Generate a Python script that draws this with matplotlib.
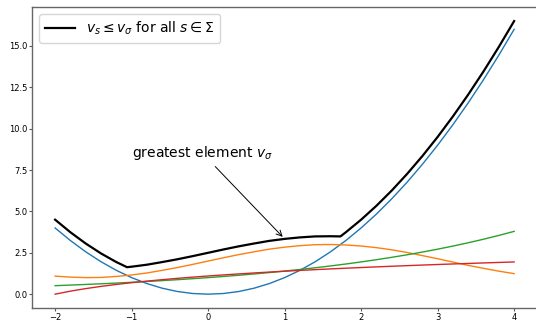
import matplotlib
matplotlib.use("Agg")
import matplotlib.pyplot as plt

x = [-2.0, -1.8, -1.6, -1.4, -1.2, -1.0, -0.8, -0.6, -0.4, -0.2, 0.0,
     0.2, 0.4, 0.6, 0.8, 1.0, 1.2, 1.4, 1.6, 1.8, 2.0, 2.2, 2.4, 2.6,
     2.8, 3.0, 3.2, 3.4, 3.6, 3.8, 4.0]

blue = [4.00, 3.24, 2.56, 1.96, 1.44, 1.00, 0.64, 0.36, 0.16, 0.04, 0.00,
        0.04, 0.16, 0.36, 0.64, 1.00, 1.44, 1.96, 2.56, 3.24, 4.00, 4.84,
        5.76, 6.76, 7.84, 9.00, 10.24, 11.56, 12.96, 14.44, 16.00]

orange = [1.09, 1.03, 1.00, 1.01, 1.07, 1.16, 1.28, 1.44, 1.61, 1.80, 2.00,
          2.20, 2.39, 2.56, 2.72, 2.84, 2.93, 2.99, 3.00, 2.97, 2.91, 2.81,
          2.68, 2.52, 2.33, 2.14, 1.94, 1.74, 1.56, 1.39, 1.24]

green = [0.513, 0.549, 0.587, 0.627, 0.670, 0.717, 0.766, 0.819, 0.875, 0.936,
         1.000, 1.069, 1.142, 1.221, 1.305, 1.396, 1.492, 1.595, 1.705, 1.822,
         1.948, 2.082, 2.226, 2.379, 2.543, 2.718, 2.906, 3.106, 3.320, 3.549,
         3.794]

red = [0.000, 0.182, 0.336, 0.470, 0.588, 0.693, 0.788, 0.875, 0.956, 1.030,
       1.099, 1.163, 1.224, 1.281, 1.335, 1.386, 1.435, 1.482, 1.526, 1.569,
       1.609, 1.649, 1.686, 1.723, 1.758, 1.792, 1.825, 1.856, 1.887, 1.917,
       1.946]

x_upper = [-2.0, -1.8, -1.6, -1.4, -1.2, -1.06, -1.0, -0.8, -0.6, -0.4, -0.2,
           0.0, 0.2, 0.4, 0.6, 0.8, 1.0, 1.2, 1.4, 1.6, 1.73, 1.8, 2.0, 2.2,
           2.4, 2.6, 2.8, 3.0, 3.2, 3.4, 3.6, 3.8, 4.0]
upper = [4.50, 3.74, 3.06, 2.46, 1.94, 1.63, 1.66, 1.78, 1.94, 2.11, 2.30,
         2.50, 2.70, 2.89, 3.06, 3.22, 3.34, 3.43, 3.49, 3.50, 3.49, 3.74,
         4.50, 5.34, 6.26, 7.26, 8.34, 9.50, 10.74, 12.06, 13.46, 14.94, 16.50]

legend_label = r"$v_s \leq v_\sigma$ for all $s \in \Sigma$"
annot_text = r"greatest element $v_\sigma$"
annot_xy = (1.0, 3.34)
annot_text_xy = (-1.0, 8.3)

fig = plt.figure(figsize=(5.36, 3.23), dpi=100)
ax = fig.add_axes([0.06, 0.047, 0.942, 0.930])

ax.plot(x, blue, color="#1f77b4", lw=1.0)
ax.plot(x, orange, color="#ff7f0e", lw=1.0)
ax.plot(x, green, color="#2ca02c", lw=1.0)
ax.plot(x, red, color="#d62728", lw=1.0)
ax.plot(x_upper, upper, color="black", lw=1.6, label=legend_label)

ax.annotate(annot_text, xy=annot_xy, xytext=annot_text_xy,
            fontsize=10, arrowprops=dict(arrowstyle="->", color="black", lw=0.7))

ax.legend(loc="upper left", fontsize=10, handlelength=2.2)
ax.set_yticks([0, 2.5, 5, 7.5, 10, 12.5, 15])
ax.set_yticklabels(["0.0", "2.5", "5.0", "7.5", "10.0", "12.5", "15.0"])
ax.set_xticks([-2, -1, 0, 1, 2, 3, 4])
ax.set_xticklabels(["\u22122", "\u22121", "0", "1", "2", "3", "4"])
ax.tick_params(labelsize=6, length=2.5, width=0.8, color="0.35", pad=1)
for s in ax.spines.values():
    s.set_color("0.4")
    s.set_linewidth(1.0)
ax.spines["right"].set_visible(False)

fig.savefig("out.png", dpi=100)
